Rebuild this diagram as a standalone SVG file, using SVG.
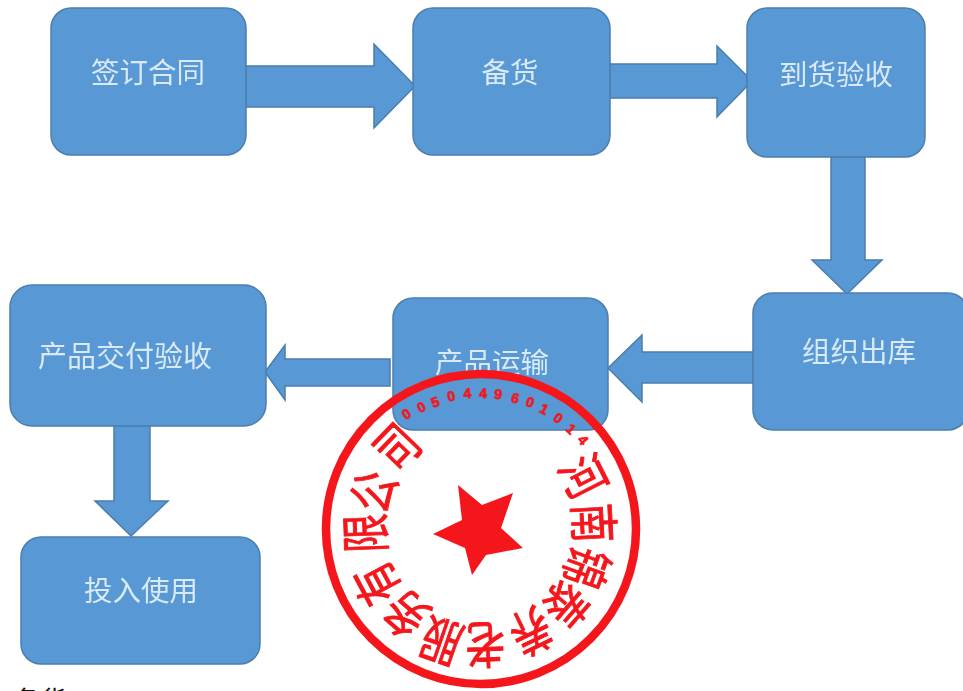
<svg xmlns="http://www.w3.org/2000/svg" width="963" height="691" viewBox="0 0 963 691">
<defs>
<filter id="soft" x="-5%" y="-5%" width="110%" height="110%"><feGaussianBlur stdDeviation="0.7"/></filter>
<filter id="softer" x="-5%" y="-5%" width="110%" height="110%"><feGaussianBlur stdDeviation="0.4"/></filter>
</defs>
<style>
.box{fill:#5898d4;stroke:#4b7fae;stroke-width:1.5}
.arrow{fill:#5898d4;stroke:#4a7dab;stroke-width:1.5;stroke-linejoin:miter}
.lbl{font-family:"Noto Sans CJK SC","Noto Sans",sans-serif;font-size:28.5px;fill:#d9e9f5;text-anchor:middle}
.wide{font-size:29px}
.seal{font-family:"Noto Sans CJK SC",sans-serif;font-size:44px;fill:#f5181e;stroke:#f5181e;stroke-width:.8;text-anchor:middle}
.num{font-family:"Liberation Sans",sans-serif;font-weight:bold;font-size:14px;fill:#f5181e;stroke:#f5181e;stroke-width:.7;text-anchor:middle}
</style>
<rect width="963" height="691" fill="#ffffff"/>
<g filter="url(#soft)">
<g id="connectors">
<path class="arrow" d="M246 66H374V44L415 86L374 128V107H246Z"/>
<path class="arrow" d="M610 64H717V46L752 81L717 117V98H610Z"/>
<path class="arrow" d="M831 157V260H812L847 294L882 260H865V157Z"/>
<path class="arrow" d="M753 352H642V335L608 368L642 402V383H753Z"/>
<path class="arrow" d="M390 359H285V345L265 372L285 400V386H390Z"/>
<path class="arrow" d="M114 426V501H95L131 536L168 501H150V426Z"/>
</g>
<g id="node-sign"><rect class="box" x="51" y="8" width="195" height="147" rx="20"/><text class="lbl" x="148" y="83">签订合同</text></g>
<g id="node-stock"><rect class="box" x="413" y="8" width="197" height="147" rx="20"/><text class="lbl" x="510" y="83">备货</text></g>
<g id="node-receive"><rect class="box" x="747" y="8" width="178" height="149" rx="20"/><text class="lbl" x="836" y="85">到货验收</text></g>
<g id="node-outbound"><rect class="box" x="753" y="293" width="215" height="137" rx="20"/><text class="lbl" x="859" y="362">组织出库</text></g>
<g id="node-transport"><rect class="box" x="393" y="298" width="215" height="132" rx="20"/><text class="lbl" x="492" y="373">产品运输</text></g>
<g id="node-accept"><rect class="box" x="10" y="285" width="256" height="141" rx="22"/><text class="lbl wide" x="125" y="367">产品交付验收</text></g>
<g id="node-use"><rect class="box" x="21" y="537" width="239" height="127" rx="20"/><text class="lbl" x="141" y="601">投入使用</text></g>
</g>
<text x="14" y="710" font-family="Noto Sans CJK SC, sans-serif" font-size="26" fill="#111111">备货</text>
<g id="seal" filter="url(#softer)">
<circle cx="481" cy="529" r="155" fill="none" stroke="#f5181e" stroke-width="8.5"/>
<polygon points="458,485 482,505 513,493 501,528 523,548 486,555 472,575 465,548 433,534 462,520" fill="#f5181e"/>
<g>
<text class="seal" transform="translate(582,477) rotate(63) scale(.9,1.15)" y="15">河</text>
<text class="seal" transform="translate(592,523) rotate(87) scale(.9,1.15)" y="15">南</text>
<text class="seal" transform="translate(585,567) rotate(110) scale(.9,1.15)" y="15">锦</text>
<text class="seal" transform="translate(565,603) rotate(131) scale(.9,1.15)" y="15">泰</text>
<text class="seal" transform="translate(530,630) rotate(154) scale(.9,1.15)" y="15">养</text>
<text class="seal" transform="translate(485,643) rotate(178) scale(.9,1.15)" y="15">老</text>
<text class="seal" transform="translate(442,640) rotate(199) scale(.9,1.15)" y="15">服</text>
<text class="seal" transform="translate(407,613) rotate(221) scale(.9,1.15)" y="15">务</text>
<text class="seal" transform="translate(378,583) rotate(242) scale(.9,1.15)" y="15">有</text>
<text class="seal" transform="translate(367,533) rotate(268) scale(.9,1.15)" y="15">限</text>
<text class="seal" transform="translate(375,492) rotate(289) scale(.9,1.15)" y="15">公</text>
<text class="seal" transform="translate(398,448) rotate(314) scale(.9,1.15)" y="15">司</text>
</g>
<g>
<text class="num" transform="translate(406,414) rotate(-33)" y="5">0</text>
<text class="num" transform="translate(421,407) rotate(-26)" y="5">0</text>
<text class="num" transform="translate(435,402) rotate(-20)" y="5">5</text>
<text class="num" transform="translate(451,396) rotate(-13)" y="5">0</text>
<text class="num" transform="translate(467,393) rotate(-6)" y="5">4</text>
<text class="num" transform="translate(483,393) rotate(1)" y="5">4</text>
<text class="num" transform="translate(498,394) rotate(7)" y="5">9</text>
<text class="num" transform="translate(515,398) rotate(15)" y="5">6</text>
<text class="num" transform="translate(530,402) rotate(21)" y="5">0</text>
<text class="num" transform="translate(544,409) rotate(28)" y="5">1</text>
<text class="num" transform="translate(558,418) rotate(35)" y="5">0</text>
<text class="num" transform="translate(571,429) rotate(42)" y="5">1</text>
<text class="num" transform="translate(583,440) rotate(49)" y="5">4</text>
</g>
</g>
</svg>
